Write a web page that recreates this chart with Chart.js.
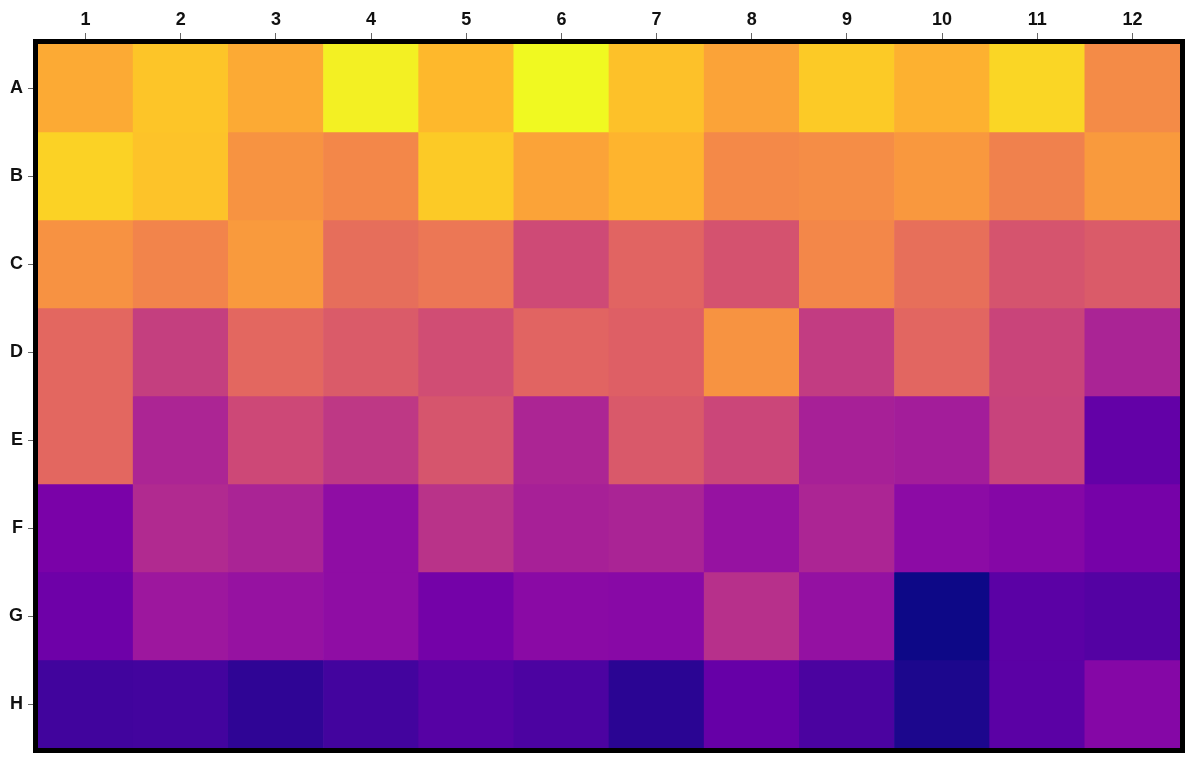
<!DOCTYPE html>
<html>
<head>
<meta charset="utf-8">
<script src="https://cdn.jsdelivr.net/npm/chart.js@4"></script>
<style>
  html, body { margin: 0; padding: 0; background: #fff; }
  #wrap { width: 1200px; height: 768px; }
</style>
</head>
<body>
<div id="wrap"><canvas id="heatmap"></canvas></div>
<script>
// plate layout: rows A-H, columns 1-12
var rowLabels = ['A', 'B', 'C', 'D', 'E', 'F', 'G', 'H'];
var colLabels = ['1', '2', '3', '4', '5', '6', '7', '8', '9', '10', '11', '12'];

// normalised well values
var rowA = [0.81, 0.88, 0.81, 0.98, 0.85, 1.00, 0.87, 0.79, 0.89, 0.83, 0.92, 0.72];
var rowB = [0.91, 0.875, 0.745, 0.71, 0.89, 0.79, 0.84, 0.715, 0.725, 0.76, 0.69, 0.765];
var rowC = [0.74, 0.70, 0.765, 0.63, 0.66, 0.51, 0.60, 0.54, 0.71, 0.635, 0.545, 0.57];
var rowD = [0.61, 0.47, 0.61, 0.57, 0.52, 0.60, 0.585, 0.745, 0.46, 0.605, 0.49, 0.38];
var rowE = [0.61, 0.385, 0.505, 0.445, 0.55, 0.385, 0.565, 0.495, 0.37, 0.36, 0.485, 0.185];
var rowF = [0.24, 0.40, 0.38, 0.30, 0.43, 0.37, 0.38, 0.32, 0.385, 0.29, 0.27, 0.23];
var rowG = [0.21, 0.34, 0.32, 0.30, 0.225, 0.285, 0.28, 0.42, 0.315, 0.00, 0.165, 0.15];
var rowH = [0.10, 0.105, 0.06, 0.105, 0.155, 0.13, 0.05, 0.19, 0.125, 0.025, 0.165, 0.27];
var rows = [rowA, rowB, rowC, rowD, rowE, rowF, rowG, rowH];

// plasma colour map stops (every 0.05)
var plasma = ['#0d0887', '#2a0593', '#41049d', '#5402a3', '#6a00a8', '#7e03a8', '#8f0da4',
  '#a01a9c', '#b12a90', '#bf3984', '#cc4778', '#d6556d', '#e16462', '#ea7457', '#f2844b',
  '#f89540', '#fca636', '#feb82c', '#fcce25', '#f7e225', '#f0f921'];

function hexToRgb(h) {
  return [parseInt(h.substr(1, 2), 16), parseInt(h.substr(3, 2), 16), parseInt(h.substr(5, 2), 16)];
}

function plasmaColor(v) {
  v = Math.max(0, Math.min(1, v));
  var pos = v * (plasma.length - 1);
  var i = Math.min(Math.floor(pos), plasma.length - 2);
  var t = pos - i;
  var a = hexToRgb(plasma[i]), b = hexToRgb(plasma[i + 1]);
  var c = a.map(function (x, k) { return Math.round(x + (b[k] - x) * t); });
  return 'rgb(' + c.join(',') + ')';
}

// each row is a dataset of floating bars spanning [r, r+1] on the y scale
var datasets = rows.map(function (vals, r) {
  return {
    label: rowLabels[r],
    data: vals.map(function () { return [r, r + 1]; }),
    backgroundColor: vals.map(plasmaColor),
    borderWidth: 0,
    grouped: false,
    barPercentage: 1,
    categoryPercentage: 1
  };
});

// black frame just outside the plot area
var framePlugin = {
  id: 'frame',
  afterDraw: function (chart) {
    var a = chart.chartArea, ctx = chart.ctx;
    ctx.save();
    ctx.strokeStyle = '#000';
    ctx.lineWidth = 5;
    ctx.strokeRect(a.left - 2.5, a.top - 2.5, a.right - a.left + 5, a.bottom - a.top + 5);
    ctx.restore();
  }
};

var ctx = document.getElementById('heatmap');

new Chart(ctx, {
  type: 'bar',
  data: {
    labels: colLabels,
    datasets: datasets
  },
  plugins: [framePlugin],
  options: {
    responsive: true,
    maintainAspectRatio: false,
    animation: false,
    layout: { padding: { top: 0, left: 0, right: 20, bottom: 20 } },
    plugins: {
      legend: { display: false },
      tooltip: { enabled: false }
    },
    scales: {
      x: {
        position: 'top',
        grid: { display: true, offset: false, drawOnChartArea: false, tickLength: 11, tickColor: '#666', lineWidth: 1 },
        border: { display: false },
        ticks: { color: '#111', padding: 2, font: { family: 'Liberation Sans, Arial, sans-serif', size: 18, weight: 'bold' } },
        afterFit: function (s) { s.height = 44; }
      },
      y: {
        min: 0,
        max: 8,
        reverse: true,
        grid: { display: true, drawOnChartArea: false, tickLength: 10, tickColor: '#666', lineWidth: 1 },
        border: { display: false },
        afterBuildTicks: function (s) {
          s.ticks = rowLabels.map(function (_, i) { return { value: i + 0.5 }; });
        },
        ticks: {
          color: '#111',
          padding: 5,
          font: { family: 'Liberation Sans, Arial, sans-serif', size: 18, weight: 'bold' },
          callback: function (v) { return rowLabels[Math.floor(v)]; }
        },
        afterFit: function (s) { s.width = 38; }
      }
    }
  }
});
</script>
</body>
</html>
